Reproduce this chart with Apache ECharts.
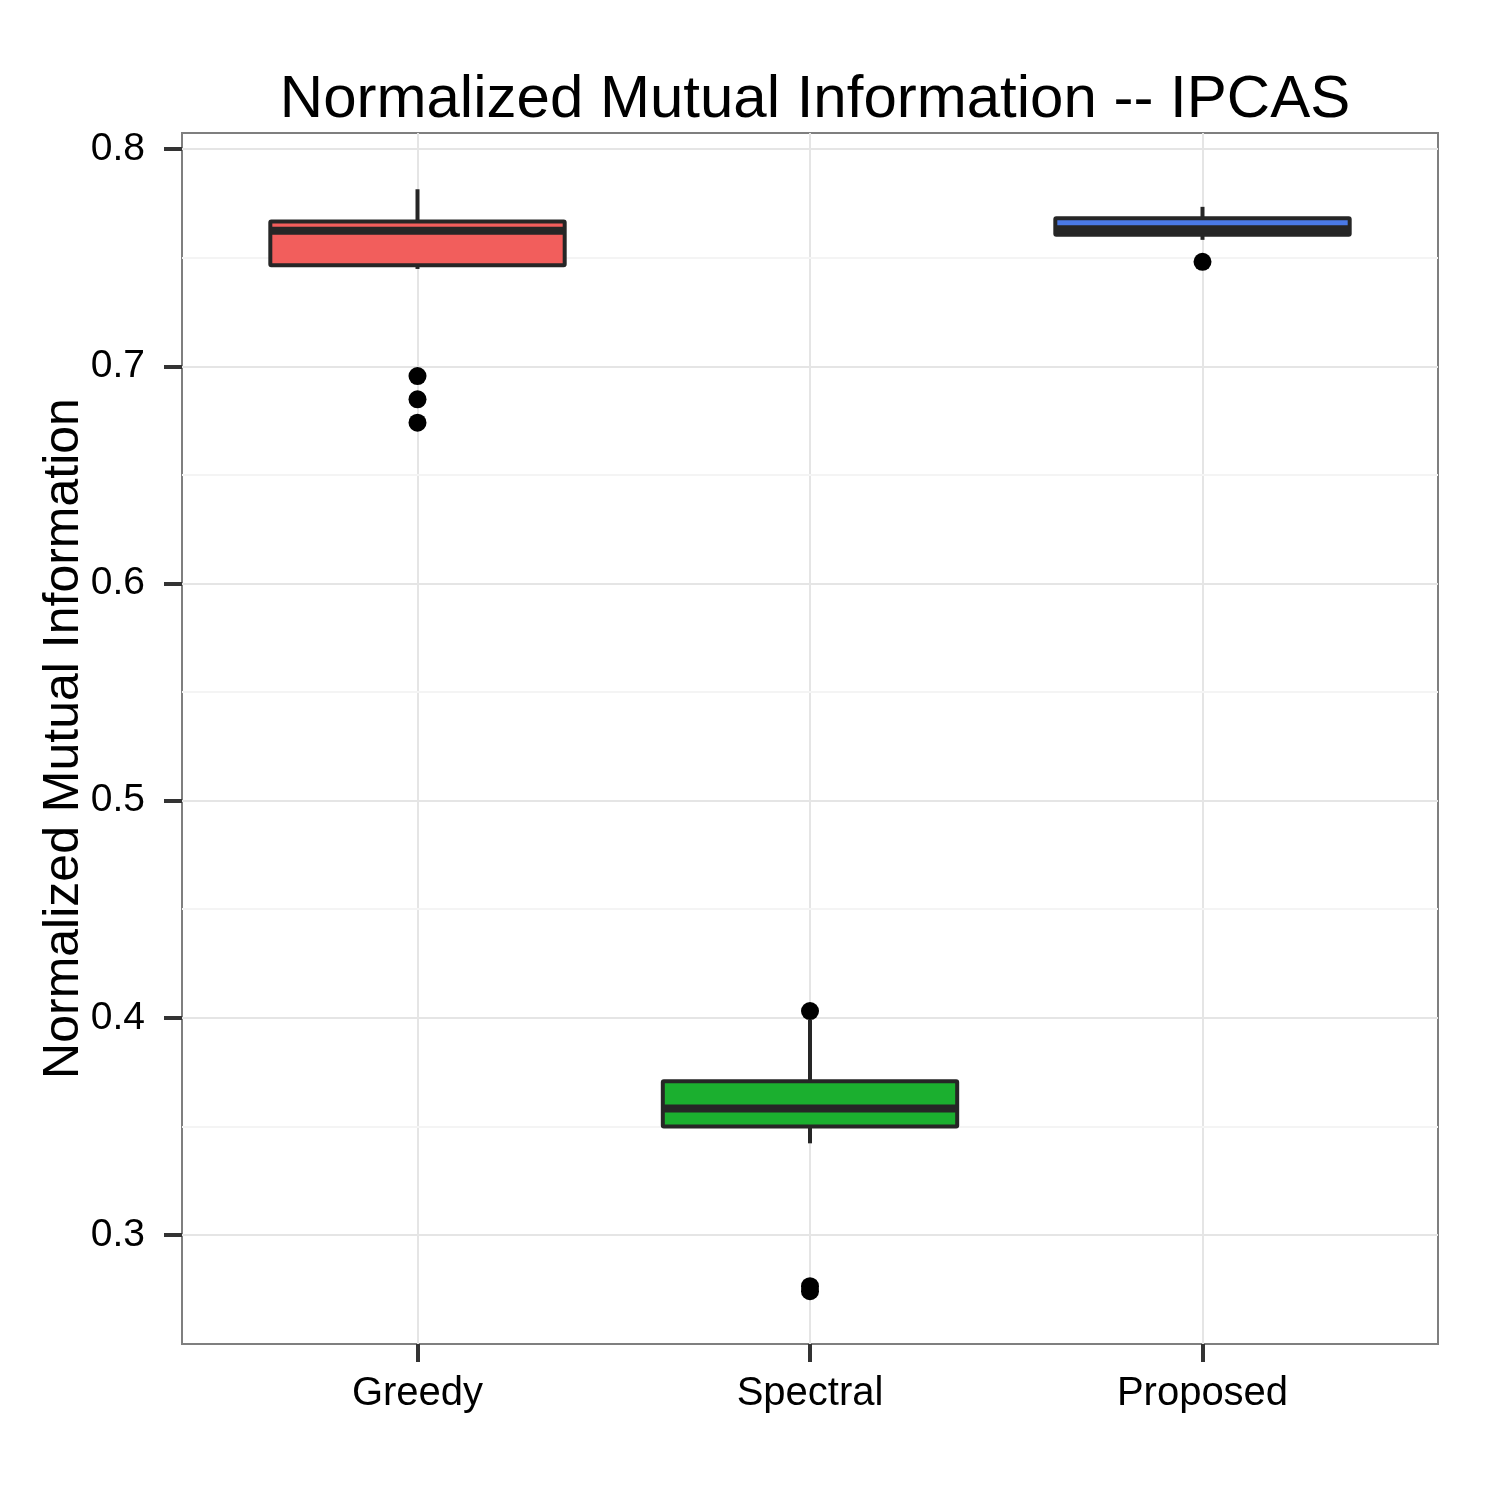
<!DOCTYPE html>
<html>
<head>
<meta charset="utf-8">
<script src="https://cdn.jsdelivr.net/npm/echarts@6/dist/echarts.min.js"></script>
<style>html,body{margin:0;padding:0;background:#fff}#c{width:1500px;height:1500px}</style>
</head>
<body>
<div id="c"></div>
<script>
// ---- data ----
var categories = ['Greedy', 'Spectral', 'Proposed'];
var boxColors = ['#F25E5C', '#1BAF2F', '#4A79E6'];
// [min whisker, Q1, median, Q3, max whisker]
var greedyBox = [0.7448, 0.7465, 0.7624, 0.7666, 0.7815];
var spectralBox = [0.3422, 0.3499, 0.3582, 0.3708, 0.3990];
var proposedBox = [0.7582, 0.7605, 0.7631, 0.7681, 0.7734];
var greedyOutliers = [0.6955, 0.6848, 0.6740];
var spectralOutliers = [0.4031, 0.2764, 0.2741];
var proposedOutliers = [0.7481];
var yTicks = [0.3, 0.4, 0.5, 0.6, 0.7, 0.8];
var yMinor = [0.35, 0.45, 0.55, 0.65, 0.75];
var xTicks = [1, 2, 3];

var boxes = [greedyBox, spectralBox, proposedBox];
var boxData = boxes.map(function (b, i) { return [i + 1].concat(b); });
var outlierData = [];
[greedyOutliers, spectralOutliers, proposedOutliers].forEach(function (arr, i) {
  arr.forEach(function (v) { outlierData.push([i + 1, v]); });
});

var chart = echarts.init(document.getElementById('c'), null, {renderer: 'canvas'});
var FONT = '"Liberation Sans", Arial, Helvetica, sans-serif';
var INK = '#262626';

function renderBox(params, api) {
  var x = api.value(0);
  var mn = api.value(1), q1 = api.value(2), md = api.value(3), q3 = api.value(4), mx = api.value(5);
  var half = api.size([0.375, 0])[0];
  var c = api.coord([x, md]);
  var pMin = api.coord([x, mn]), pQ1 = api.coord([x, q1]), pQ3 = api.coord([x, q3]), pMax = api.coord([x, mx]);
  var color = boxColors[params.dataIndex];
  return {
    type: 'group',
    children: [
      {type: 'line', shape: {x1: c[0], y1: pQ3[1], x2: c[0], y2: pMax[1]}, style: {stroke: INK, lineWidth: 4}},
      {type: 'line', shape: {x1: c[0], y1: pQ1[1], x2: c[0], y2: pMin[1]}, style: {stroke: INK, lineWidth: 4}},
      {type: 'rect', shape: {x: c[0] - half, y: pQ3[1], width: half * 2, height: pQ1[1] - pQ3[1], r: 1},
        style: {fill: color, stroke: INK, lineWidth: 4}},
      {type: 'line', shape: {x1: c[0] - half, y1: c[1], x2: c[0] + half, y2: c[1]}, style: {stroke: INK, lineWidth: 8}}
    ]
  };
}

chart.setOption({
  animation: false,
  backgroundColor: '#ffffff',
  title: {
    text: 'Normalized Mutual Information -- IPCAS',
    left: 810, top: 65, textAlign: 'center',
    textStyle: {fontFamily: FONT, fontSize: 60, fontWeight: 'normal', color: '#000'}
  },
  grid: {left: 182, top: 133, right: 62, bottom: 156, show: true, borderColor: '#7f7f7f', borderWidth: 2, backgroundColor: '#fff'},
  xAxis: {
    type: 'value', min: 0.4, max: 3.6,
    axisLine: {show: false},
    axisTick: {show: true, customValues: xTicks, length: 18, lineStyle: {color: '#333', width: 4}},
    axisLabel: {show: true, customValues: xTicks, margin: 30, fontFamily: FONT, fontSize: 40, color: '#000',
      formatter: function (v) { return categories[Math.round(v) - 1] || ''; }},
    splitLine: {show: true, lineStyle: {color: '#e5e5e5', width: 2}}
  },
  yAxis: {
    type: 'value', min: 0.2498, max: 0.8074,
    name: 'Normalized Mutual Information', nameLocation: 'middle', nameGap: 93, nameMoveOverlap: false,
    nameTextStyle: {fontFamily: FONT, fontSize: 50, color: '#000'},
    axisLine: {show: false},
    axisTick: {show: true, customValues: yTicks, length: 18, lineStyle: {color: '#333', width: 4}},
    axisLabel: {show: true, customValues: yTicks, margin: 37, fontFamily: FONT, fontSize: 39, color: '#000',
      formatter: function (v) { return v.toFixed(1); }},
    splitLine: {show: true, lineStyle: {color: '#e5e5e5', width: 2}}
  },
  series: [
    {
      type: 'line', data: [], z: 1, silent: true,
      markLine: {z: 1, silent: true, symbol: ['none', 'none'], label: {show: false},
        lineStyle: {color: '#f4f4f4', width: 2, type: 'solid'},
        data: yMinor.map(function (v) { return {yAxis: v}; })}
    },
    {type: 'custom', z: 3, renderItem: renderBox, data: boxData, encode: {x: 0, y: [1, 2, 3, 4, 5]}},
    {type: 'scatter', z: 4, symbol: 'circle', symbolSize: 18, itemStyle: {color: '#000', opacity: 1}, data: outlierData}
  ]
});
</script>
</body>
</html>
